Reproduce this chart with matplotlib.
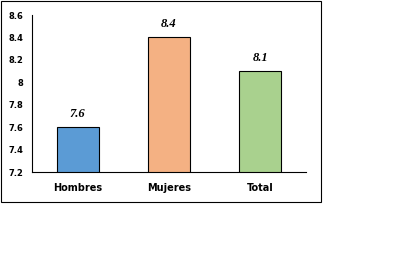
import matplotlib
matplotlib.use("Agg")
import matplotlib.pyplot as plt
from matplotlib.patches import Rectangle

categories = ["Hombres", "Mujeres", "Total"]
values = [7.6, 8.4, 8.1]
value_labels = ["7.6", "8.4", "8.1"]
yticks = [7.2, 7.4, 7.6, 7.8, 8.0, 8.2, 8.4, 8.6]
ytick_labels = ["7.2", "7.4", "7.6", "7.8", "8", "8.2", "8.4", "8.6"]
colors = ["#5B9BD5", "#F4B183", "#A9D18E"]

W, H = 410, 267
fig = plt.figure(figsize=(W / 100, H / 100), dpi=100)
fig.patch.set_facecolor("white")

# outer frame
fig.patches.append(Rectangle((1 / W, 1 - 202 / H), 320 / W, 201 / H,
                             transform=fig.transFigure, fill=False,
                             edgecolor="black", linewidth=0.8))

ax = fig.add_axes([32 / W, 1 - 172 / H, (306 - 32) / W, (172 - 15) / H])
x = range(len(categories))
ax.bar(x, values, width=0.46, color=colors, edgecolor="black", linewidth=0.8)
ax.set_ylim(7.2, 8.6)
ax.set_xlim(-0.5, 2.5)
ax.set_yticks(yticks)
ax.set_yticklabels(ytick_labels, fontsize=6, fontweight="bold", family="DejaVu Sans")
ax.set_xticks(list(x))
ax.set_xticklabels(categories, fontsize=7, fontweight="bold", family="DejaVu Sans")
ax.tick_params(axis="y", length=0, pad=6)
ax.tick_params(axis="x", length=0, pad=8)
for s in ["top", "right"]:
    ax.spines[s].set_visible(False)
for s in ["left", "bottom"]:
    ax.spines[s].set_linewidth(0.8)
for xi, v, lab in zip(x, values, value_labels):
    ax.text(xi, v + 0.065, lab, ha="center", va="bottom", fontsize=9,
            fontweight="bold", fontstyle="italic", family="Liberation Serif")

fig.savefig("out.png", dpi=100)
